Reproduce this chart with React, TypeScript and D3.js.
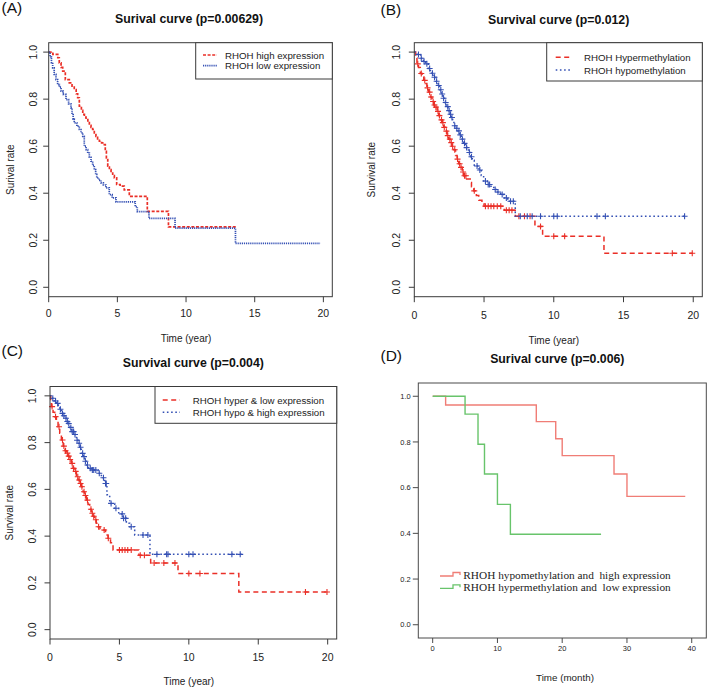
import React from "react";
import * as d3 from "d3";

const SANS = "'Liberation Sans', Arial, Helvetica, sans-serif";
const SERIF = "'Liberation Serif', 'Times New Roman', serif";

// ---------------- data ----------------
const yearTicks = [0, 5, 10, 15, 20];
const rateTicks = [0, 0.2, 0.4, 0.6, 0.8, 1.0];
const monthTicks = [0, 10, 20, 30, 40];

// Panel A
const aHighTimes = [0.3, 0.66, 0.77, 0.9, 1.02, 1.21, 1.5, 1.7, 1.86, 2.0, 2.11, 2.23, 2.38, 2.48, 2.6, 2.72, 2.85, 2.96, 3.08, 3.2, 3.32, 3.44, 3.56, 3.69, 3.85, 4.05, 4.12, 4.2, 4.3, 4.42, 4.54, 4.66, 4.78, 4.95, 5.2, 5.5, 5.87, 7.18, 8.72];
const aHighSurv = [0.99, 0.976, 0.954, 0.935, 0.919, 0.883, 0.869, 0.855, 0.841, 0.823, 0.806, 0.77, 0.752, 0.735, 0.724, 0.713, 0.7, 0.689, 0.68, 0.671, 0.656, 0.642, 0.631, 0.621, 0.614, 0.607, 0.578, 0.55, 0.515, 0.5, 0.486, 0.475, 0.465, 0.437, 0.43, 0.414, 0.387, 0.323, 0.257];
const aHighEnd = 13.7;
const aLowTimes = [0.1, 0.2, 0.29, 0.4, 0.53, 0.65, 0.78, 0.9, 1.05, 1.26, 1.45, 1.62, 1.7, 1.78, 1.86, 2.05, 2.23, 2.35, 2.48, 2.59, 2.72, 2.84, 2.96, 3.08, 3.2, 3.32, 3.42, 3.5, 3.65, 3.81, 3.98, 4.17, 4.41, 4.62, 4.9, 6.3, 6.45, 7.3, 9.2, 13.6];
const aLowSurv = [0.98, 0.955, 0.933, 0.905, 0.883, 0.862, 0.851, 0.834, 0.82, 0.798, 0.78, 0.763, 0.74, 0.715, 0.699, 0.685, 0.671, 0.657, 0.642, 0.6, 0.585, 0.571, 0.553, 0.536, 0.518, 0.5, 0.48, 0.465, 0.455, 0.444, 0.435, 0.423, 0.394, 0.38, 0.363, 0.343, 0.322, 0.293, 0.252, 0.187];
const aLowEnd = 19.76;

// Panel B
const bHyperTimes = [0.1, 0.19, 0.3, 0.43, 0.57, 0.68, 0.79, 0.9, 1.02, 1.15, 1.27, 1.39, 1.53, 1.64, 1.75, 1.88, 2.0, 2.11, 2.24, 2.35, 2.47, 2.6, 2.7, 2.82, 2.96, 3.07, 3.18, 3.3, 3.44, 3.54, 3.75, 4.01, 4.1, 4.26, 4.45, 4.62, 4.85, 5.0, 6.45, 7.24, 8.65, 9.2, 13.6];
const bHyperSurv = [0.975, 0.95, 0.935, 0.909, 0.895, 0.88, 0.866, 0.848, 0.83, 0.809, 0.79, 0.775, 0.766, 0.748, 0.73, 0.712, 0.7, 0.68, 0.664, 0.645, 0.63, 0.615, 0.6, 0.585, 0.56, 0.545, 0.525, 0.51, 0.49, 0.474, 0.46, 0.446, 0.428, 0.41, 0.39, 0.37, 0.355, 0.345, 0.328, 0.302, 0.259, 0.217, 0.145];
const bHyperEnd = 19.95;
const bHyperCensor = [0.25, 0.5, 0.75, 0.95, 1.1, 1.2, 1.35, 1.45, 1.55, 1.7, 1.8, 1.95, 2.05, 2.15, 2.3, 2.4, 2.55, 2.65, 2.75, 2.9, 3.1, 3.25, 3.35, 3.5, 3.6, 3.7, 4.3, 5.1, 5.3, 5.5, 5.7, 5.95, 6.2, 6.6, 6.8, 7.0, 7.5, 7.9, 8.3, 9.05, 10.0, 10.78, 18.5, 19.93];
const bHypoTimes = [0.2, 0.45, 0.65, 0.81, 1.0, 1.12, 1.27, 1.41, 1.55, 1.7, 1.82, 1.94, 2.05, 2.17, 2.29, 2.41, 2.53, 2.65, 2.75, 2.84, 3.0, 3.13, 3.25, 3.37, 3.52, 3.68, 3.8, 3.92, 4.04, 4.16, 4.3, 4.64, 4.8, 4.97, 5.23, 5.5, 5.71, 5.95, 6.19, 6.45, 6.7, 7.24];
const bHypoSurv = [0.99, 0.974, 0.96, 0.95, 0.93, 0.922, 0.91, 0.893, 0.876, 0.858, 0.84, 0.822, 0.804, 0.786, 0.768, 0.751, 0.736, 0.722, 0.705, 0.687, 0.676, 0.665, 0.648, 0.63, 0.612, 0.594, 0.584, 0.573, 0.555, 0.54, 0.516, 0.499, 0.475, 0.452, 0.437, 0.424, 0.416, 0.405, 0.395, 0.38, 0.366, 0.302];
const bHypoEnd = 19.4;
const bHypoCensor = [0.3, 0.5, 0.7, 0.9, 1.1, 1.3, 1.45, 1.6, 1.75, 1.9, 2.0, 2.1, 2.25, 2.4, 2.5, 2.6, 2.7, 2.9, 3.05, 3.2, 3.3, 3.45, 3.6, 3.75, 3.95, 4.1, 4.5, 4.7, 5.1, 5.3, 5.4, 5.8, 6.0, 6.3, 6.6, 6.9, 7.1, 7.6, 8.1, 8.45, 9.05, 10.0, 10.25, 13.1, 13.7, 19.38];

// Panel C
const cHyperTimes = [0.05, 0.1, 0.22, 0.34, 0.46, 0.58, 0.7, 0.82, 0.95, 1.08, 1.18, 1.3, 1.42, 1.54, 1.66, 1.78, 1.9, 2.02, 2.14, 2.26, 2.38, 2.5, 2.62, 2.74, 2.86, 2.97, 3.1, 3.2, 3.33, 3.46, 3.6, 3.82, 4.0, 4.18, 4.36, 4.54, 6.4, 7.25, 9.22, 13.6];
const cHyperSurv = [0.975, 0.954, 0.93, 0.911, 0.89, 0.868, 0.84, 0.811, 0.785, 0.765, 0.755, 0.742, 0.728, 0.711, 0.69, 0.677, 0.654, 0.64, 0.625, 0.611, 0.59, 0.574, 0.554, 0.535, 0.515, 0.498, 0.485, 0.47, 0.455, 0.44, 0.43, 0.426, 0.405, 0.391, 0.372, 0.341, 0.318, 0.285, 0.24, 0.161];
const cHyperEnd = 20.0;
const cHyperCensor = [0.15, 0.4, 0.65, 0.9, 1.0, 1.12, 1.25, 1.35, 1.45, 1.6, 1.7, 1.85, 2.0, 2.1, 2.2, 2.3, 2.45, 2.55, 2.7, 2.95, 3.05, 3.15, 3.3, 3.5, 3.9, 4.2, 5.0, 5.2, 5.4, 5.6, 5.85, 6.5, 6.8, 7.5, 8.2, 9.0, 10.0, 10.8, 18.4, 19.95];
const cHypoTimes = [0.15, 0.3, 0.46, 0.6, 0.7, 0.82, 0.95, 1.1, 1.2, 1.3, 1.42, 1.54, 1.75, 1.9, 2.05, 2.15, 2.26, 2.4, 2.5, 2.62, 2.75, 2.97, 3.46, 3.7, 3.94, 4.1, 4.3, 4.66, 4.95, 5.26, 5.5, 5.74, 6.1, 7.2];
const cHypoSurv = [0.99, 0.978, 0.968, 0.957, 0.943, 0.925, 0.915, 0.904, 0.89, 0.882, 0.865, 0.847, 0.835, 0.81, 0.797, 0.78, 0.754, 0.74, 0.72, 0.704, 0.69, 0.683, 0.669, 0.65, 0.625, 0.577, 0.54, 0.519, 0.495, 0.476, 0.455, 0.44, 0.405, 0.322];
const cHypoEnd = 13.8;
const cHypoCensor = [0.2, 0.4, 0.55, 0.75, 0.9, 1.0, 1.15, 1.25, 1.35, 1.5, 1.6, 1.7, 1.8, 1.95, 2.1, 2.2, 2.35, 2.45, 2.55, 2.7, 2.9, 3.05, 3.15, 3.3, 3.55, 3.85, 4.0, 4.05, 4.4, 4.75, 5.2, 5.3, 5.45, 5.85, 6.7, 7.05, 7.7, 8.4, 8.5, 10.0, 10.3, 13.1, 13.7];

// Panel D
const dHypoTimes = [2, 16, 19, 20, 28, 30];
const dHypoSurv = [0.962, 0.889, 0.814, 0.74, 0.66, 0.562];
const dHypoEnd = 39;
const dHyperTimes = [5, 7, 8, 10, 12];
const dHyperSurv = [0.922, 0.79, 0.66, 0.527, 0.396];
const dHyperEnd = 26;

// ---------------- helpers ----------------
type Series = {
  times: number[];
  surv: number[];
  end: number;
  censor?: number[];
  color: string;
  dash?: string;
  width: number;
  label: string;
};

function kmPoints(times: number[], surv: number[], end: number): [number, number][] {
  const pts: [number, number][] = [[0, 1]];
  times.forEach((t, i) => pts.push([t, surv[i]]));
  pts.push([end, surv[surv.length - 1]]);
  return pts;
}

function survAt(times: number[], surv: number[], c: number): number {
  let s = 1;
  for (let i = 0; i < times.length; i++) if (times[i] <= c) s = surv[i];
  return s;
}

const RED = "#ea2f27";
const BLUE = "#3450b4";

type RCfg = {
  left: number; right: number; top: number; bottom: number;
  title: string; titleX: number; titleY: number;
  tag: string; tagX: number; tagY: number;
  yLabel: string; yLabelX: number; yTickX: number;
  xTickY: number; xLabelY: number;
  legend: { x0: number; x1: number; y0: number; y1: number; lx0: number; lx1: number; tx: number; rows: number[] };
  series: Series[];
};

function RPanel({ cfg }: { cfg: RCfg }) {
  const x = d3.scaleLinear().domain([0, 20.65]).range([cfg.left, cfg.right]);
  const y = d3.scaleLinear().domain([-0.04, 1.04]).range([cfg.bottom, cfg.top]);
  const line = d3.line<[number, number]>().x(d => x(d[0])).y(d => y(d[1])).curve(d3.curveStepAfter);
  const midY = (cfg.top + cfg.bottom) / 2;
  const midX = (x(0) + x(20)) / 2;
  const lg = cfg.legend;
  return (
    <g fontFamily={SANS}>
      <text x={cfg.tagX} y={cfg.tagY} fontSize={15.5} fill="#111">{cfg.tag}</text>
      <text x={cfg.titleX} y={cfg.titleY} fontSize={12.3} fontWeight="bold" textAnchor="middle" fill="#111">{cfg.title}</text>
      {cfg.series.map((s, i) => (
        <g key={i}>
          <path d={line(kmPoints(s.times, s.surv, s.end)) || ""} fill="none" stroke={s.color} strokeWidth={s.width} strokeDasharray={s.dash} />
          {(s.censor || []).map((c, j) => {
            const cx = x(c), cy = y(survAt(s.times, s.surv, c));
            return <path key={j} d={`M${cx - 3},${cy}H${cx + 3}M${cx},${cy - 3}V${cy + 3}`} stroke={s.color} strokeWidth={1.1} />;
          })}
        </g>
      ))}
      <rect x={cfg.left} y={cfg.top} width={cfg.right - cfg.left} height={cfg.bottom - cfg.top} fill="none" stroke="#3a3a3a" strokeWidth={1} />
      {rateTicks.map(t => (
        <g key={"y" + t}>
          <line x1={cfg.left - 5.5} x2={cfg.left} y1={y(t)} y2={y(t)} stroke="#3a3a3a" />
          <text transform={`translate(${cfg.yTickX},${y(t)}) rotate(-90)`} fontSize={10.5} textAnchor="middle" fill="#222">{d3.format(".1f")(t)}</text>
        </g>
      ))}
      <text transform={`translate(${cfg.yLabelX},${midY}) rotate(-90)`} fontSize={10} textAnchor="middle" fill="#222">{cfg.yLabel}</text>
      {yearTicks.map(t => (
        <g key={"x" + t}>
          <line x1={x(t)} x2={x(t)} y1={cfg.bottom} y2={cfg.bottom + 5.5} stroke="#3a3a3a" />
          <text x={x(t)} y={cfg.xTickY} fontSize={10.5} textAnchor="middle" fill="#222">{t}</text>
        </g>
      ))}
      <text x={midX} y={cfg.xLabelY} fontSize={10} textAnchor="middle" fill="#222">Time (year)</text>
      <rect x={lg.x0} y={lg.y0} width={lg.x1 - lg.x0} height={lg.y1 - lg.y0} fill="#fff" stroke="#3a3a3a" strokeWidth={1} />
      {cfg.series.map((s, i) => (
        <g key={"l" + i}>
          <line x1={lg.lx0} x2={lg.lx1} y1={lg.rows[i]} y2={lg.rows[i]} stroke={s.color} strokeWidth={s.width} strokeDasharray={s.dash} />
          <text x={lg.tx} y={lg.rows[i] + 3.5} fontSize={9.7} fill="#222">{s.label}</text>
        </g>
      ))}
    </g>
  );
}

const panelA: RCfg = {
  left: 48.7, right: 332.3, top: 42.7, bottom: 296.7,
  title: "Surival curve (p=0.00629)", titleX: 189, titleY: 22.5,
  tag: "(A)", tagX: 1.5, tagY: 13,
  yLabel: "Surival rate", yLabelX: 13.5, yTickX: 37,
  xTickY: 317, xLabelY: 341.5,
  legend: { x0: 195.7, x1: 332.3, y0: 42.7, y1: 79, lx0: 203, lx1: 217, tx: 225, rows: [55, 65.7] },
  series: [
    { times: aHighTimes, surv: aHighSurv, end: aHighEnd, color: RED, dash: "3,1.6", width: 1.7, label: "RHOH high expression" },
    { times: aLowTimes, surv: aLowSurv, end: aLowEnd, color: BLUE, dash: "1.2,0.9", width: 1.7, label: "RHOH low expression" },
  ],
};

const panelB: RCfg = {
  left: 414.3, right: 702.3, top: 42.7, bottom: 296.7,
  title: "Survival curve (p=0.012)", titleX: 558.7, titleY: 24,
  tag: "(B)", tagX: 380.5, tagY: 15,
  yLabel: "Survival rate", yLabelX: 374.5, yTickX: 399.5,
  xTickY: 319, xLabelY: 344,
  legend: { x0: 546.7, x1: 702.3, y0: 42.7, y1: 81, lx0: 555.7, lx1: 572.3, tx: 584, rows: [57.3, 70] },
  series: [
    { times: bHyperTimes, surv: bHyperSurv, end: bHyperEnd, censor: bHyperCensor, color: RED, dash: "5,3.5", width: 1.5, label: "RHOH Hypermethylation" },
    { times: bHypoTimes, surv: bHypoSurv, end: bHypoEnd, censor: bHypoCensor, color: BLUE, dash: "1.6,2.6", width: 1.5, label: "RHOH hypomethylation" },
  ],
};

const panelC: RCfg = {
  left: 50, right: 336.7, top: 386.5, bottom: 639,
  title: "Survival curve (p=0.004)", titleX: 193.3, titleY: 366.5,
  tag: "(C)", tagX: 1.5, tagY: 355.5,
  yLabel: "Survival rate", yLabelX: 13, yTickX: 35.5,
  xTickY: 661, xLabelY: 684.5,
  legend: { x0: 155, x1: 336.7, y0: 386.5, y1: 423.3, lx0: 162.7, lx1: 180, tx: 192.7, rows: [400, 412.3] },
  series: [
    { times: cHyperTimes, surv: cHyperSurv, end: cHyperEnd, censor: cHyperCensor, color: RED, dash: "5,3.5", width: 1.5, label: "RHOH hyper & low expression" },
    { times: cHypoTimes, surv: cHypoSurv, end: cHypoEnd, censor: cHypoCensor, color: BLUE, dash: "1.6,2.6", width: 1.5, label: "RHOH hypo & high expression" },
  ],
};

const D_RED = "#f07d76";
const D_GREEN = "#68c46b";

function PanelD() {
  const left = 418.3, right = 706.3, top = 383, bottom = 638;
  const x = d3.scaleLinear().domain([-2.22, 42.25]).range([left, right]);
  const y = d3.scaleLinear().domain([-0.058, 1.058]).range([bottom, top]);
  const line = d3.line<[number, number]>().x(d => x(d[0])).y(d => y(d[1])).curve(d3.curveStepAfter);
  const series = [
    { times: dHypoTimes, surv: dHypoSurv, end: dHypoEnd, color: D_RED, label: "RHOH hypomethylation and  high expression" },
    { times: dHyperTimes, surv: dHyperSurv, end: dHyperEnd, color: D_GREEN, label: "RHOH hypermethylation and  low expression" },
  ];
  const legRows = [576, 588.3];
  return (
    <g fontFamily={SANS}>
      <text x={380.5} y={360.5} fontSize={15.5} fill="#111">(D)</text>
      <text x={557.3} y={363} fontSize={12.3} fontWeight="bold" textAnchor="middle" fill="#111">Surival curve (p=0.006)</text>
      {series.map((s, i) => (
        <path key={i} d={line(kmPoints(s.times, s.surv, s.end)) || ""} fill="none" stroke={s.color} strokeWidth={1.4} />
      ))}
      <rect x={left} y={top} width={right - left} height={bottom - top} fill="none" stroke="#4a4a4a" strokeWidth={1} />
      {rateTicks.map(t => (
        <g key={"y" + t}>
          <line x1={left - 5.5} x2={left} y1={y(t)} y2={y(t)} stroke="#4a4a4a" />
          <text x={left - 7.5} y={y(t) + 2.6} fontSize={7.5} textAnchor="end" fill="#222">{d3.format(".1f")(t)}</text>
        </g>
      ))}
      {monthTicks.map(t => (
        <g key={"x" + t}>
          <line x1={x(t)} x2={x(t)} y1={bottom} y2={bottom + 5} stroke="#4a4a4a" />
          <text x={x(t)} y={651} fontSize={7.5} textAnchor="middle" fill="#222">{t}</text>
        </g>
      ))}
      <text x={565} y={681} fontSize={9.8} textAnchor="middle" fill="#222">Time (month)</text>
      {series.map((s, i) => {
        const ly = legRows[i];
        return (
          <g key={"l" + i}>
            <path d={`M440,${ly}H453V${ly - 3.5}H460V${ly - 1}`} fill="none" stroke={s.color} strokeWidth={1.3} />
            <text x={463.3} y={ly + 3} fontSize={11.3} fontFamily={SERIF} fill="#222" style={{ whiteSpace: "pre" }}>{s.label}</text>
          </g>
        );
      })}
    </g>
  );
}

export default function App() {
  return (
    <svg width={709} height={688} viewBox="0 0 709 688" style={{ position: "absolute", left: 0, top: 0, background: "#fff" }}>
      <rect x={0} y={0} width={709} height={688} fill="#fff" />
      <RPanel cfg={panelA} />
      <RPanel cfg={panelB} />
      <RPanel cfg={panelC} />
      <PanelD />
    </svg>
  );
}
